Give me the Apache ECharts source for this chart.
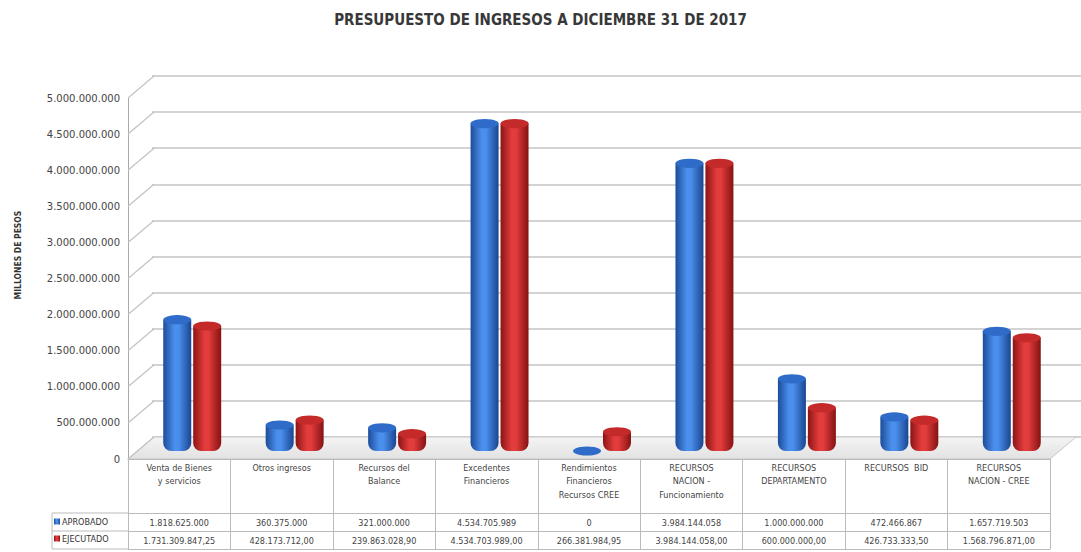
<!DOCTYPE html>
<html>
<head>
<meta charset="utf-8">
<script src="https://cdn.jsdelivr.net/npm/echarts@6/dist/echarts.min.js"></script>
<style>html,body{margin:0;padding:0;background:#fff}#c{width:1081px;height:552px}</style>
</head>
<body>
<div id="c"></div>
<script>
var categories = ['Venta de Bienes\ny servicios', 'Otros ingresos', 'Recursos del\nBalance', 'Excedentes\nFinancieros', 'Rendimientos\nFinancieros\nRecursos CREE', 'RECURSOS\nNACION -\nFuncionamiento', 'RECURSOS\nDEPARTAMENTO', 'RECURSOS  BID', 'RECURSOS\nNACION - CREE'];
var aprobado = [1818625000, 360375000, 321000000, 4534705989, 0, 3984144058, 1000000000, 472466867, 1657719503];
var ejecutado = [1731309847.25, 428173712.00, 239863028.90, 4534703989.00, 266381984.95, 3984144058.00, 600000000.00, 426733333.50, 1568796871.00];
var yTicks = [0, 500000000, 1000000000, 1500000000, 2000000000, 2500000000, 3000000000, 3500000000, 4000000000, 4500000000, 5000000000];
var seriesNames = ['APROBADO', 'EJECUTADO'];
var axisTitle = 'MILLONES DE PESOS';

function dots(s) { return s.replace(/\B(?=(\d{3})+(?!\d))/g, '.'); }
function fmtInt(v) { return dots(Math.round(v).toString()); }
function fmtDec(v) { var p = v.toFixed(2).split('.'); return dots(p[0]) + ',' + p[1]; }

var FONT = "'Liberation Sans Narrow', 'DejaVu Sans Condensed', 'Liberation Sans', sans-serif";
var chart = echarts.init(document.getElementById('c'), null, { renderer: 'svg' });

function cyl(c1, c2, c3) {
  return new echarts.graphic.LinearGradient(0, 0, 1, 0, [
    { offset: 0, color: c1 }, { offset: 0.4, color: c2 }, { offset: 0.55, color: c2 }, { offset: 1, color: c3 }
  ]);
}
var blueG = cyl('#1c4c99', '#4a8fec', '#1a4590');
var redG = cyl('#8c1414', '#e23c3c', '#861212');

var DX = 26, DY = 22;

var option = {
  backgroundColor: '#ffffff',
  animation: false,
  title: {
    text: 'PRESUPUESTO DE INGRESOS A DICIEMBRE 31 DE 2017',
    left: 'center', top: 7,
    textStyle: { fontFamily: FONT, fontSize: 15, fontWeight: 'bold', color: '#383838' }
  },
  legend: {
    data: seriesNames, orient: 'vertical', left: 54, top: 517,
    itemWidth: 6, itemHeight: 6, itemGap: 8, padding: 0, icon: 'rect',
    textStyle: { fontFamily: FONT, fontSize: 9, color: '#333', padding: [0, 0, 0, -3] }
  },
  grid: [
    { left: 128, right: 31, top: 98, bottom: 93 },
    { left: 152, right: 0, top: 76, bottom: 115 },
    { left: 141, right: 18, top: 90, bottom: 101 }
  ],
  xAxis: [
    { gridIndex: 0, type: 'category', data: categories,
      axisLine: { show: true, lineStyle: { color: '#aaaaaa' } },
      axisTick: { show: true, length: 90, lineStyle: { color: '#bbbbbb' } },
      axisLabel: { interval: 0, margin: 2, fontFamily: FONT, fontSize: 9, lineHeight: 13.5, color: '#444', verticalAlign: 'top' } },
    { gridIndex: 0, type: 'category', data: aprobado.map(fmtInt), position: 'bottom', offset: 54,
      axisLine: { show: true, lineStyle: { color: '#bbbbbb' } }, axisTick: { show: false },
      axisLabel: { interval: 0, margin: 5, fontFamily: FONT, fontSize: 9, color: '#444', verticalAlign: 'top' } },
    { gridIndex: 0, type: 'category', data: ejecutado.map(fmtDec), position: 'bottom', offset: 72,
      axisLine: { show: true, lineStyle: { color: '#bbbbbb' } }, axisTick: { show: false },
      axisLabel: { interval: 0, margin: 5, fontFamily: FONT, fontSize: 9, color: '#444', verticalAlign: 'top' } },
    { gridIndex: 0, type: 'category', data: categories, position: 'bottom', offset: 90,
      axisLine: { show: true, lineStyle: { color: '#bbbbbb' } }, axisTick: { show: false }, axisLabel: { show: false } },
    { gridIndex: 1, type: 'category', data: categories, show: false },
    { gridIndex: 2, type: 'category', data: categories, show: false }
  ],
  yAxis: [
    { gridIndex: 0, type: 'value', min: 0, max: 5000000000, interval: 500000000,
      axisLine: { show: true, lineStyle: { color: '#aaaaaa' } }, axisTick: { show: false }, splitLine: { show: false },
      axisLabel: { margin: 8, fontFamily: "'DejaVu Sans', sans-serif", fontSize: 10, color: '#444', formatter: function (v) { return fmtInt(v); } } },
    { gridIndex: 1, type: 'value', min: 0, max: 5000000000, interval: 500000000,
      axisLine: { show: false }, axisTick: { show: false }, axisLabel: { show: false },
      splitLine: { show: true, lineStyle: { color: '#c4c4c4', width: 1.5 } } },
    { gridIndex: 2, type: 'value', min: 0, max: 5000000000, interval: 500000000, show: false, splitLine: { show: false } }
  ],
  graphic: [
    { type: 'text', x: 18, y: 255, rotation: Math.PI / 2,
      style: { text: axisTitle, textAlign: 'center', textVerticalAlign: 'middle', fill: '#333', font: "bold 8.5px 'DejaVu Sans Condensed', sans-serif" } },
    { type: 'line', shape: { x1: 52, y1: 513, x2: 128, y2: 513 }, style: { stroke: '#bbbbbb', lineWidth: 1 } },
    { type: 'line', shape: { x1: 52, y1: 531, x2: 128, y2: 531 }, style: { stroke: '#bbbbbb', lineWidth: 1 } },
    { type: 'line', shape: { x1: 52, y1: 549, x2: 128, y2: 549 }, style: { stroke: '#bbbbbb', lineWidth: 1 } },
    { type: 'line', shape: { x1: 52, y1: 513, x2: 52, y2: 549 }, style: { stroke: '#bbbbbb', lineWidth: 1 } }
  ],
  series: [
    { type: 'custom', name: 'wall', xAxisIndex: 0, yAxisIndex: 0, z: 1, silent: true,
      data: yTicks.map(function (v) { return [0, v]; }), encode: { x: 0, y: 1 },
      renderItem: function (params, api) {
        var x0 = params.coordSys.x;
        var y = api.coord([0, api.value(1)])[1];
        var children = [{ type: 'line', shape: { x1: x0, y1: y, x2: x0 + DX, y2: y - DY }, style: { stroke: '#c4c4c4', lineWidth: 1.3 } }];
        if (params.dataIndex === 0) {
          var w = params.coordSys.width;
          children.unshift({ type: 'polygon', shape: { points: [[x0, y], [x0 + DX, y - DY], [x0 + w + DX, y - DY], [x0 + w, y]] },
            style: { fill: new echarts.graphic.LinearGradient(0, 0, 0, 1, [{ offset: 0, color: '#f4f4f4' }, { offset: 1, color: '#e2e2e2' }]), stroke: '#c8c8c8', lineWidth: 1 } });
        }
        return { type: 'group', children: children };
      } },
    { type: 'bar', name: 'APROBADO', xAxisIndex: 5, yAxisIndex: 2, data: aprobado, barWidth: 28, barGap: '7%', z: 3,
      itemStyle: { color: blueG, borderRadius: [0, 0, 8, 8] } },
    { type: 'bar', name: 'EJECUTADO', xAxisIndex: 5, yAxisIndex: 2, data: ejecutado, barWidth: 28, barGap: '7%', z: 3,
      itemStyle: { color: redG, borderRadius: [0, 0, 8, 8] } },
    { type: 'pictorialBar', name: 'capA', xAxisIndex: 5, yAxisIndex: 2, data: aprobado, barWidth: 28, barGap: '7%', z: 4,
      symbol: 'circle', symbolSize: [28, 9], symbolPosition: 'end', symbolOffset: [0, '-50%'], silent: true,
      itemStyle: { color: '#2f6bc8' } },
    { type: 'pictorialBar', name: 'capE', xAxisIndex: 5, yAxisIndex: 2, data: ejecutado, barWidth: 28, barGap: '7%', z: 4,
      symbol: 'circle', symbolSize: [28, 9], symbolPosition: 'end', symbolOffset: [0, '-50%'], silent: true,
      itemStyle: { color: '#c42a2a' } }
  ],
  color: ['#2f6fd1', '#c62828']
};
chart.setOption(option);
</script>
</body>
</html>
